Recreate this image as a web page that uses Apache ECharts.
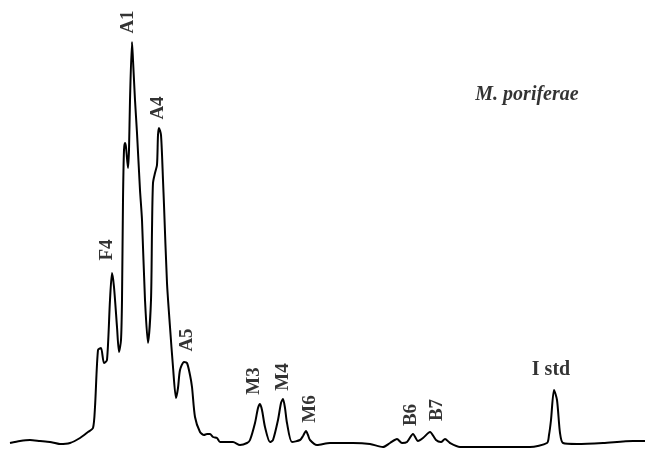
<!DOCTYPE html>
<html>
<head>
<meta charset="utf-8">
<script src="https://cdn.jsdelivr.net/npm/echarts@6/dist/echarts.min.js"></script>
<style>html,body{margin:0;padding:0;background:#fff}#c{width:651px;height:453px}</style>
</head>
<body>
<div id="c"></div>
<script>
// retention time (arbitrary units) and detector signal
const time = [10,20,30,40,50,60,70,80,88,93,95,98,101,104,107,110,112,114,117,119,121,122,123,124,125,126,128,129,130,132,133,135,137,140,142,145,148,151,152,153,155,157,158,159,161,163,164,167,170,173,176,178,180,184,187,190,192,195,200,204,207,210,213,217,220,233,240,247,250,255,258,260,262,265,270,273,278,281,283,285,287,292,300,303,306,308,310,317,330,353,370,383,390,397,402,407,413,418,423,430,436,441,445,450,460,470,503,530,547,549,551,554,557,560,563,577,603,633,645];
const signal = [7,9,10,9,8,6,7,12,18,22,43,100,102,87,90,150,177,163,123,98,110,150,250,300,307,303,282,300,350,408,390,350,317,260,230,150,107,150,220,267,277,285,315,322,315,270,245,167,123,83,52,62,80,88,87,75,63,33,18,15,16,16,13,12,8,8,5,7,10,27,42,46,40,23,8,10,30,47,51,42,27,8,10,14,19,15,10,5,7,7,6,3,7,11,7,8,16,9,12,18,10,8,11,7,3,3,3,3,7,15,30,60,50,17,7,6,7,9,9];
// peak labels (rotated) and their anchor positions
const peakNames = ['A1','A4','F4','A5','M3','M4','M6','B6','B7'];
const peakTime  = [128,158,107,187,254,283,310,411,437];
const peakLevel = [428,342,200,110,69,73,41,35,40];
const stdName = 'I std', stdTime = 551, stdLevel = 80;
const titleText = 'M. poriferae', titleTime = 527, titleLevel = 355;

const chart = echarts.init(document.getElementById('c'), null, {renderer:'canvas'});
const font = 'Liberation Serif';
const base = {show:true,position:'inside',formatter:p=>p.name,color:'#000',textBorderWidth:0,
  fontFamily:font,fontWeight:'bold',align:'center',verticalAlign:'middle'};
chart.setOption({
  animation:false,
  backgroundColor:'#fff',
  grid:{left:0,right:0,top:0,bottom:3},
  xAxis:{type:'value',min:0,max:651,show:false},
  yAxis:{type:'value',min:0,max:450,show:false},
  series:[
    {type:'line',data:time.map((t,i)=>[t,signal[i]]),showSymbol:false,smooth:0.25,
     lineStyle:{color:'#000',width:2},z:2},
    {type:'scatter',symbolSize:1,itemStyle:{color:'rgba(0,0,0,0)'},
     data:peakNames.map((n,i)=>({name:n,value:[peakTime[i],peakLevel[i]]})),
     label:Object.assign({},base,{rotate:90,fontSize:19})},
    {type:'scatter',symbolSize:1,itemStyle:{color:'rgba(0,0,0,0)'},
     data:[{name:stdName,value:[stdTime,stdLevel]}],
     label:Object.assign({},base,{fontSize:20})},
    {type:'scatter',symbolSize:1,itemStyle:{color:'rgba(0,0,0,0)'},
     data:[{name:titleText,value:[titleTime,titleLevel]}],
     label:Object.assign({},base,{fontSize:20,fontStyle:'italic'})}
  ]
});
</script>
</body>
</html>
